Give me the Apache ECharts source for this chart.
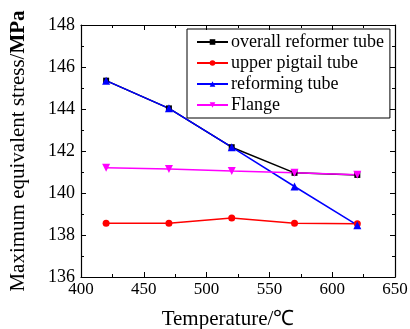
<!DOCTYPE html>
<html>
<head>
<meta charset="utf-8">
<script src="https://cdn.jsdelivr.net/npm/echarts@6/dist/echarts.min.js"></script>
<style>
  html, body { margin: 0; padding: 0; background: #fff; }
  #chart { width: 410px; height: 329px; }
</style>
</head>
<body>
<div id="chart"></div>
<script>
// temperatures (°C)
const temps = [420, 470, 520, 570, 620];
// max equivalent stress (MPa)
const overallTube = [145.35, 144.03, 142.18, 140.96, 140.86];
const pigtailTube = [138.56, 138.56, 138.81, 138.56, 138.53];
const reformingTube = [145.35, 144.03, 142.18, 140.31, 138.47];
const flange = [141.2, 141.14, 141.05, 140.97, 140.87];

const seriesNames = ['overall reformer tube', 'upper pigtail tube', 'reforming tube', 'Flange'];
const xTicks = { min: 400, max: 650, step: 50 };
const yTicks = { min: 136, max: 148, step: 2 };

const font = '"Liberation Serif", "Times New Roman", serif';

const chart = echarts.init(document.getElementById('chart'));

const pair = arr => temps.map((t, i) => [t, arr[i]]);

function mkSeries(name, data, color, symbol, size) {
  return {
    name: name,
    type: 'line',
    data: pair(data),
    symbol: symbol,
    symbolSize: size,
    lineStyle: { color: color, width: 1.5 },
    itemStyle: { color: color },
    z: 3
  };
}

const axisBase = {
  axisLine: { show: true, lineStyle: { color: '#000', width: 1.2 } },
  axisTick: { show: true, inside: true, length: 5, lineStyle: { color: '#000', width: 1 } },
  minorTick: { show: true, splitNumber: 2, length: 3, lineStyle: { color: '#000', width: 1 } },
  splitLine: { show: false }
};

const option = {
  animation: false,
  backgroundColor: '#fff',
  grid: { left: 81, right: 15, top: 25, bottom: 52, outerBoundsMode: 'none', containLabel: false },
  legend: {
    orient: 'vertical',
    left: 187,
    top: 29,
    width: 201,
    padding: [4, 6, 4, 9],
    itemGap: 3,
    itemWidth: 31,
    itemHeight: 7,
    borderColor: '#000',
    borderWidth: 1,
    textStyle: { fontFamily: font, fontSize: 18, color: '#000', padding: [0, 0, 0, -2] },
    data: seriesNames
  },
  xAxis: [
    Object.assign({}, axisBase, {
      type: 'value',
      position: 'bottom',
      min: xTicks.min, max: xTicks.max, interval: xTicks.step,
      axisLabel: { color: '#000', fontFamily: font, fontSize: 17, margin: 4 },
      name: 'Temperature/℃',
      nameLocation: 'middle',
      nameGap: 32,
      nameTextStyle: { fontFamily: font, fontSize: 21, color: '#000', padding: [0, 20, 0, 0] }
    }),
    Object.assign({}, axisBase, {
      type: 'value',
      position: 'top',
      min: xTicks.min, max: xTicks.max, interval: xTicks.step,
      axisLabel: { show: false }
    })
  ],
  yAxis: [
    Object.assign({}, axisBase, {
      type: 'value',
      position: 'left',
      min: yTicks.min, max: yTicks.max, interval: yTicks.step,
      axisLabel: { color: '#000', fontFamily: font, fontSize: 18, margin: 6 },
      name: '{a|Maximum equivalent stress/}{b|MPa}',
      nameLocation: 'middle',
      nameGap: 52,
      nameTextStyle: {
        rich: {
          a: { fontFamily: font, fontSize: 21, color: '#000' },
          b: { fontFamily: font, fontSize: 21, color: '#000', fontWeight: 'bold' }
        }
      }
    }),
    Object.assign({}, axisBase, {
      type: 'value',
      position: 'right',
      min: yTicks.min, max: yTicks.max, interval: yTicks.step,
      axisLabel: { show: false }
    })
  ],
  series: [
    mkSeries(seriesNames[0], overallTube, '#000000', 'rect', 6),
    mkSeries(seriesNames[1], pigtailTube, '#ff0000', 'circle', 7),
    mkSeries(seriesNames[2], reformingTube, '#0000ff', 'triangle', 8),
    mkSeries(seriesNames[3], flange, '#ff00ff', 'path://M0,0 L10,0 L5,9 Z', 8)
  ]
};

chart.setOption(option);
</script>
</body>
</html>
